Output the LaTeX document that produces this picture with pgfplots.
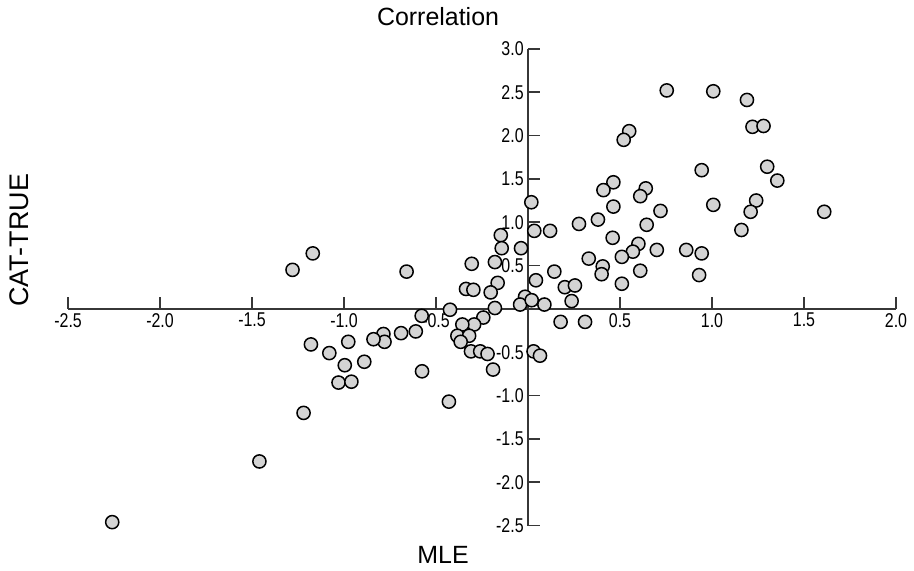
\documentclass[border=0pt]{standalone}
\usepackage{fontspec}
\setmainfont{Liberation Sans}
\newfontfamily\condfont[FakeStretch=0.8]{Liberation Sans}
\usepackage{pgfplots}
\pgfplotsset{compat=1.18}
\definecolor{ptfill}{RGB}{212,212,212}
\definecolor{axgray}{RGB}{55,55,55}

\begin{document}
\begin{tikzpicture}
\begin{axis}[
  scale only axis,
  width=415pt,
  height=239pt,
  xmin=-2.5, xmax=2.0,
  ymin=-2.5, ymax=3.0,
  axis lines=middle,
  axis line style={axgray, line width=0.8pt, -},
  xtick={-2.5,-2,-1.5,-1,-0.5,0.5,1,1.5,2},
  xticklabels={-2.5,-2.0,-1.5,-1.0,-0.5,0.5,1.0,1.5,2.0},
  ytick={-2.5,-2,-1.5,-1,-0.5,0.5,1,1.5,2,2.5,3},
  yticklabels={-2.5,-2.0,-1.5,-1.0,-0.5,0.5,1.0,1.5,2.0,2.5,3.0},
  tick style={axgray, line width=0.8pt},
  major tick length=6pt,
  tick align=inside,
  ticklabel style={font=\condfont\fontsize{10}{11}\selectfont, inner sep=2pt},
  clip=false,
]
\addplot[only marks, mark=*, mark size=3.3pt,
  mark options={fill=ptfill, draw=black, line width=0.75pt}] coordinates {
  (0.754,2.52) (1.007,2.51) (1.19,2.41) (1.22,2.10) (1.28,2.11)
  (0.55,2.05) (0.52,1.95) (0.944,1.60) (1.30,1.64) (1.355,1.48)
  (0.464,1.46) (0.41,1.37) (0.64,1.39) (0.61,1.30) (0.018,1.23)
  (0.464,1.18) (0.72,1.13) (1.007,1.20) (1.24,1.25) (1.21,1.12)
  (1.61,1.12) (0.38,1.03) (0.277,0.98) (0.645,0.97) (-0.148,0.85)
  (0.034,0.90) (0.12,0.90) (1.16,0.91) (0.46,0.82) (-0.143,0.70)
  (-0.038,0.70) (0.60,0.75) (0.57,0.66) (0.70,0.68) (0.86,0.68)
  (0.944,0.64) (0.33,0.58) (0.51,0.60) (-0.306,0.52) (-0.18,0.54)
  (0.406,0.49) (0.40,0.40) (0.61,0.44) (0.93,0.39) (0.143,0.43)
  (0.043,0.33) (-0.165,0.30) (0.20,0.25) (0.255,0.27) (0.51,0.29)
  (-0.337,0.23) (-0.297,0.22) (-0.203,0.19) (0.237,0.09) (-0.016,0.14)
  (-0.043,0.05) (0.02,0.10) (0.089,0.05) (-0.18,0.01) (-0.424,-0.01)
  (0.177,-0.15) (0.31,-0.15) (-1.28,0.45) (-1.17,0.64) (-0.66,0.43)
  (-0.578,-0.08) (-0.243,-0.10) (-0.293,-0.18) (-0.357,-0.18) (-0.384,-0.31)
  (-0.32,-0.31) (-0.366,-0.38) (-0.31,-0.49) (-0.26,-0.49) (-0.22,-0.52)
  (-0.19,-0.70) (0.03,-0.49) (0.065,-0.54) (-0.61,-0.26) (-0.69,-0.28)
  (-0.786,-0.29) (-0.78,-0.38) (-0.84,-0.35) (-0.977,-0.38) (-1.18,-0.41)
  (-1.08,-0.51) (-0.89,-0.61) (-0.996,-0.65) (-1.03,-0.85) (-0.96,-0.84)
  (-0.576,-0.72) (-0.43,-1.07) (-1.22,-1.20) (-2.26,-2.46) (-1.46,-1.76)
};
% titles and labels
\node[font=\fontsize{12.5}{14}\selectfont] at (axis cs:-0.489,3.368) {Correlation};
\node[font=\fontsize{12.5}{14}\selectfont] at (axis cs:-0.462,-2.839) {MLE};
\node[font=\fontsize{13.5}{15}\selectfont, rotate=90] at (axis cs:-2.766,0.793) {CAT-TRUE};
% page size
\path (axis cs:-2.870,-3.011) rectangle (axis cs:2.098,3.563);
\end{axis}
\end{tikzpicture}
\end{document}
